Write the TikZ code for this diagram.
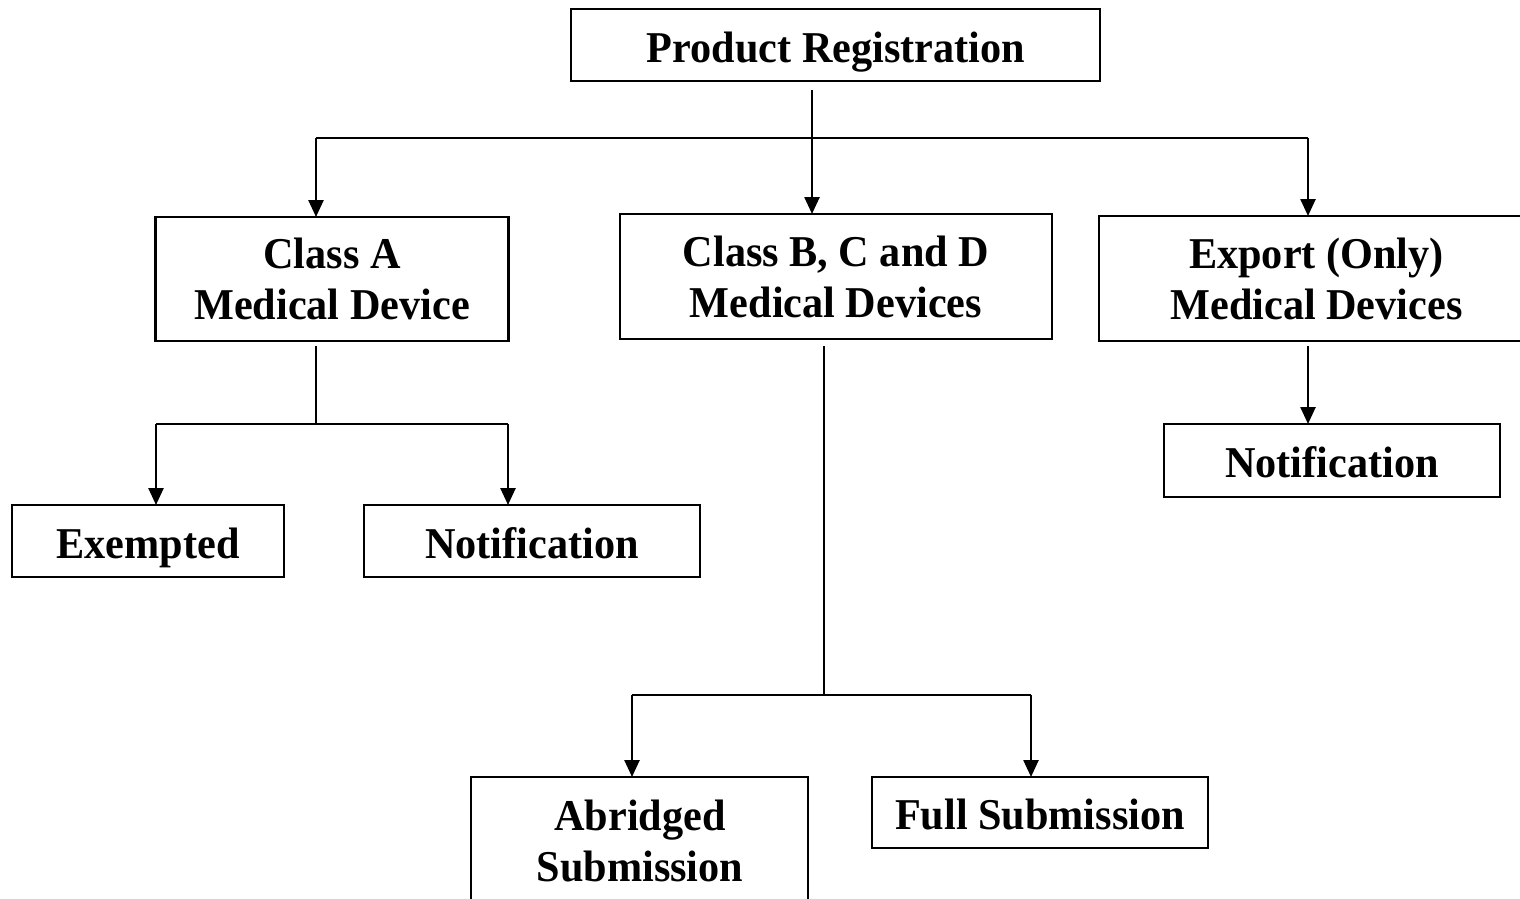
\documentclass[tikz,border=0pt]{standalone}
\usepackage{fontspec}
\newfontfamily\boxfont{Liberation Serif}[FakeStretch=0.96]
\usetikzlibrary{arrows.meta}

\tikzset{
  box/.style={draw=black, line width=2.5pt, fill=white, inner sep=0pt, outer sep=0pt},
  label text/.style={anchor=base, inner sep=0pt, align=center,
    font=\boxfont\bfseries\fontsize{44}{51.5}\selectfont},
  link/.style={draw=black, line width=2.5pt},
  arrowlink/.style={link, -{Triangle[length=17pt, width=15pt]}}
}

\begin{document}
\begin{tikzpicture}[x=1pt, y=-1pt]
  \useasboundingbox (0,0) rectangle (1520,898);
  \fill[white] (0,0) rectangle (1520,898);
  \clip (0,0) rectangle (1520,898);

  % boxes, given by centre and size
  \node[box, minimum width=529pt, minimum height=72pt]  (pr)  at (835.5,45)    {};
  \node[box, minimum width=353pt, minimum height=124pt] (ca)  at (332,279)     {};
  \node[box, minimum width=432pt, minimum height=125pt] (bcd) at (836,276.5)   {};
  \node[box, minimum width=435pt, minimum height=125pt] (ex)  at (1316.5,278.5){};
  \node[box, minimum width=336pt, minimum height=73pt]  (nr)  at (1332,460.5)  {};
  \node[box, minimum width=272pt, minimum height=72pt]  (exm) at (148,541)     {};
  \node[box, minimum width=336pt, minimum height=72pt]  (nl)  at (532,541)     {};
  \node[box, minimum width=337pt, minimum height=128pt] (ab)  at (639.5,841)   {};
  \node[box, minimum width=336pt, minimum height=71pt]  (fs)  at (1040,812.5)  {};

  % texts, placed on their last baseline
  \node[label text] (t-pr)  at (836,62)       {Product Registration};
  \node[label text] (t-ca)  at (332,319.5)    {Class A\\Medical Device};
  \node[label text] (t-bcd) at (836,317.5)    {Class B, C and D\\Medical Devices};
  \node[label text] (t-ex)  at (1316.5,319.5) {Export (Only)\\Medical Devices};
  \node[label text] (t-nr)  at (1332,477.5)   {Notification};
  \node[label text] (t-exm) at (148,558)      {Exempted};
  \node[label text] (t-nl)  at (532,558)      {Notification};
  \node[label text] (t-ab)  at (640,881.5)    {Abridged\\Submission};
  \node[label text] (t-fs)  at (1040,829.5)   {Full Submission};

  % branch points
  \coordinate (pr-top)   at (812,90);
  \coordinate (bus-l)    at (316,138);
  \coordinate (bus-r)    at (1308,138);
  \coordinate (ca-top)   at (316,346);
  \coordinate (ca-bus)   at (316,424);
  \coordinate (ca-l)     at (156,424);
  \coordinate (ca-r)     at (508,424);
  \coordinate (bcd-top)  at (824,346);
  \coordinate (bcd-bus)  at (824,695);
  \coordinate (bcd-l)    at (632,695);
  \coordinate (bcd-r)    at (1031,695);
  \coordinate (ex-top)   at (1308,346);

  % first level
  \draw[link] (bus-l) -- (bus-r);
  \draw[arrowlink] (pr-top) -- (pr-top |- bcd.north);
  \draw[arrowlink] (bus-l) -- (bus-l |- ca.north);
  \draw[arrowlink] (bus-r) -- (bus-r |- ex.north);

  % class A branch
  \draw[link] (ca-top) -- (ca-bus);
  \draw[link] (ca-l) -- (ca-r);
  \draw[arrowlink] (ca-l) -- (ca-l |- exm.north);
  \draw[arrowlink] (ca-r) -- (ca-r |- nl.north);

  % class B, C and D branch
  \draw[link] (bcd-top) -- (bcd-bus);
  \draw[link] (bcd-l) -- (bcd-r);
  \draw[arrowlink] (bcd-l) -- (bcd-l |- ab.north);
  \draw[arrowlink] (bcd-r) -- (bcd-r |- fs.north);

  % export branch
  \draw[arrowlink] (ex-top) -- (ex-top |- nr.north);
\end{tikzpicture}
\end{document}
